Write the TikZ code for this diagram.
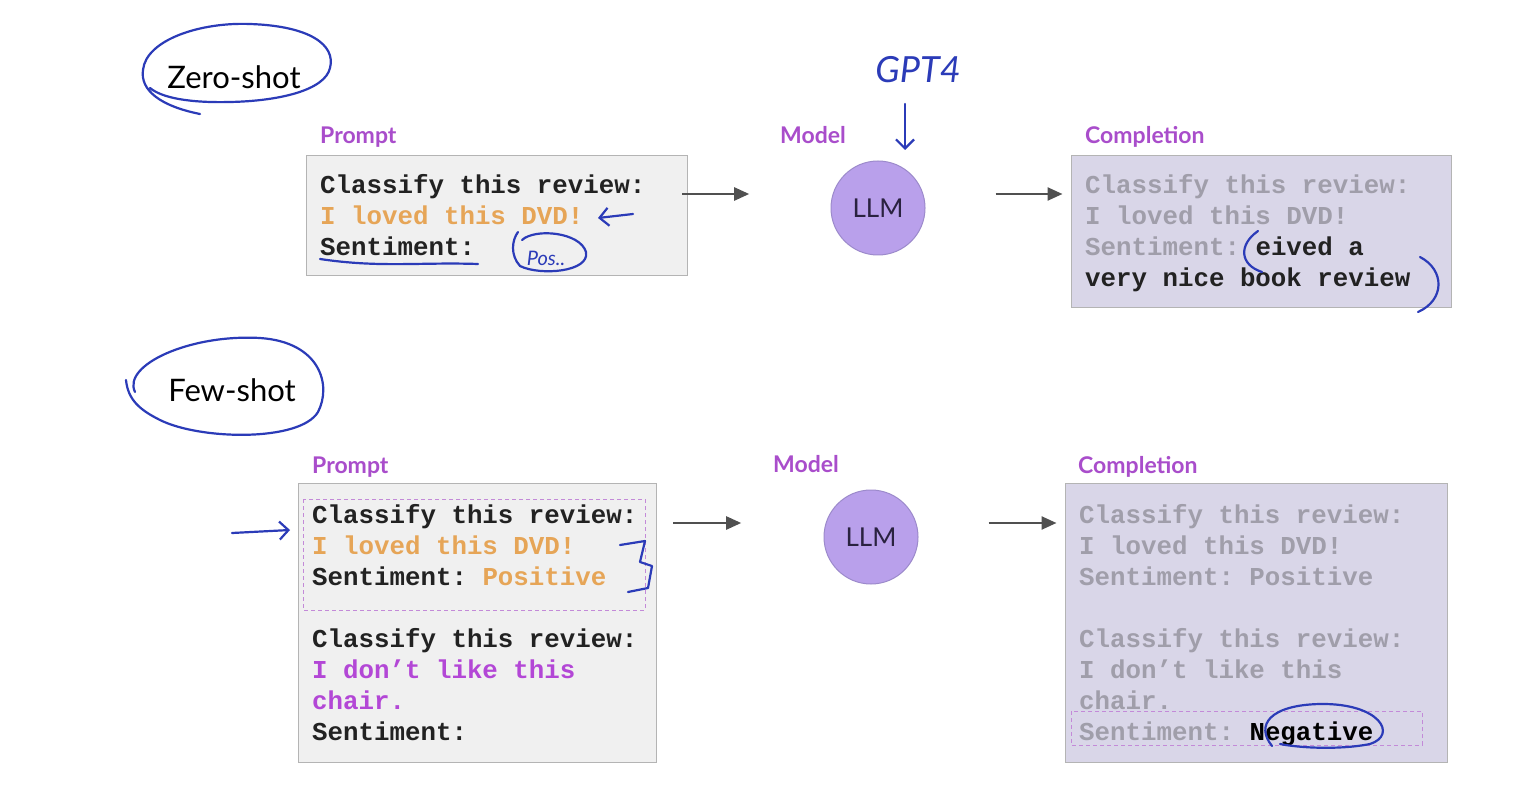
\documentclass[tikz,border=0pt]{standalone}
\usepackage{fontspec}
\setmainfont{Lato}
\setmonofont{Liberation Mono}
\usetikzlibrary{positioning,arrows.meta}
\definecolor{labelpurple}{HTML}{A94DCB}
\definecolor{boxgray}{HTML}{F0F0F0}
\definecolor{boxline}{HTML}{B4B4B4}
\definecolor{compfill}{HTML}{D9D6E8}
\definecolor{llmfill}{HTML}{B9A0EB}
\definecolor{llmline}{HTML}{9C8ACB}
\definecolor{llmtext}{HTML}{2A2240}
\definecolor{arrowgray}{HTML}{505050}
\definecolor{loved}{HTML}{E6A557}
\definecolor{chair}{HTML}{B347D6}
\definecolor{faded}{HTML}{A09EAA}
\definecolor{ink}{HTML}{222222}
\definecolor{dashpurple}{HTML}{C38AD8}
\definecolor{pen}{HTML}{2B3BB8}
\tikzset{pbox/.style={draw=boxline, fill=boxgray, line width=1.2pt, anchor=north west, inner sep=0pt},
  cbox/.style={pbox, fill=compfill},
  lbl/.style={text=labelpurple, font=\fontsize{23}{28}\selectfont\bfseries, anchor=base west, inner sep=0pt},
  mono/.style={text=ink, font=\fontsize{25.8}{31}\selectfont\ttfamily\bfseries, align=left, anchor=north west, inner sep=0pt},
  llm/.style={circle, draw=llmline, fill=llmfill, line width=1pt, minimum size=94pt, inner sep=0pt, text=llmtext, font=\fontsize{26}{30}\selectfont},
  flow/.style={draw=arrowgray, line width=2.4pt, -{Triangle[length=15pt,width=13pt]}},
  dashbox/.style={draw=dashpurple, line width=1pt, dash pattern=on 4pt off 3pt},
  hand/.style={draw=pen, line width=2.2pt, line cap=round, line join=round},
  barb/.style={hand, -{Straight Barb[length=9pt,width=18pt]}},
  shot/.style={text=black, font=\fontsize{31}{36}\selectfont, inner sep=0pt}}

\begin{document}
\begin{tikzpicture}[x=1pt,y=-1pt]
  \fill[white] (0,0) rectangle (1538,791);
  \useasboundingbox (0,0) rectangle (1538,791);

  % zero-shot
  \node[shot] (zs) at (234,77) {Zero-shot};
  \node[pbox, minimum width=381pt, minimum height=120pt] (pz) at (306,155) {};
  \node[lbl] (lpz) at ([xshift=14pt,yshift=11pt]pz.north west) {Prompt};
  \node[mono] (tpz) at ([xshift=14pt,yshift=-19pt]pz.north west)
    {Classify this review:\\ \textcolor{loved}{I loved this DVD!}\\ Sentiment:};
  \node[llm] (mz) at (878,208) {LLM};
  \node[lbl] (lmz) at ([xshift=-98pt,yshift=17pt]mz.north) {Model};
  \node[cbox, minimum width=380pt, minimum height=152pt] (cz) at (1071,155) {};
  \node[lbl] (lcz) at ([xshift=14pt,yshift=11pt]cz.north west) {Completion};
  \node[mono, text=faded] (tcz) at ([xshift=14pt,yshift=-19pt]cz.north west)
    {Classify this review:\\ I loved this DVD!\\ Sentiment: \textcolor{ink}{eived a}\\ \textcolor{ink}{very nice book review}};
  \draw[flow] ([xshift=-6pt,yshift=-39pt]pz.north east) -- ++(67,0);
  \draw[flow] ([xshift=70pt,yshift=14pt]mz.east) -- ++(67,0);

  % few-shot
  \node[shot] (fs) at (232,390) {Few-shot};
  \node[pbox, minimum width=358pt, minimum height=279pt] (pf) at (298,483) {};
  \node[lbl] (lpf) at ([xshift=14pt,yshift=10pt]pf.north west) {Prompt};
  \draw[dashbox] (303,499) rectangle (645,610);
  \node[mono] (tpf) at ([xshift=14pt,yshift=-21pt]pf.north west)
    {Classify this review:\\ \textcolor{loved}{I loved this DVD!}\\ Sentiment: \textcolor{loved}{Positive}\\[31pt]
     Classify this review:\\ \textcolor{chair}{I don’t like this}\\ \textcolor{chair}{chair.}\\ Sentiment:};
  \node[llm] (mf) at (871,537) {LLM};
  \node[lbl] (lmf) at ([xshift=-98pt,yshift=17pt]mf.north) {Model};
  \node[cbox, minimum width=382pt, minimum height=279pt] (cf) at (1065,483) {};
  \node[lbl] (lcf) at ([xshift=13pt,yshift=10pt]cf.north west) {Completion};
  \draw[dashbox] (1071,711) rectangle (1422,745);
  \node[mono, text=faded] (tcf) at ([xshift=14pt,yshift=-21pt]cf.north west)
    {Classify this review:\\ I loved this DVD!\\ Sentiment: Positive\\[31pt]
     Classify this review:\\ I don’t like this\\ chair.\\ Sentiment: \textcolor{black}{Negative}};
  \draw[flow] ([xshift=16pt,yshift=-40pt]pf.north east) -- ++(68,0);
  \draw[flow] ([xshift=70pt,yshift=14pt]mf.east) -- ++(68,0);

  % pen notes
  \draw[hand] (200,114) .. controls (160,106) and (140,90) .. (143,70) .. controls (146,40) and (200,22) .. (250,24)
    .. controls (310,26) and (336,45) .. (330,68) .. controls (325,90) and (280,101) .. (230,102)
    .. controls (190,103) and (162,98) .. (150,88);
  \draw[hand] (135,392) .. controls (122,365) and (190,334) .. (260,338) .. controls (320,342) and (332,385) .. (318,412)
    .. controls (300,442) and (200,440) .. (160,420) .. controls (140,410) and (128,400) .. (126,380);
  \node[text=pen, font=\fontsize{36}{40}\selectfont\itshape, inner sep=0pt] (gpt) at (918,70) {GPT4};
  \draw[barb] (905,104) -- (905,150);
  \draw[barb] (633,214) -- (598,218);
  \draw[hand] (320,259) .. controls (380,268) and (420,262) .. (478,264);
  \draw[hand] (522,240) .. controls (535,228) and (580,232) .. (586,252) .. controls (590,272) and (540,276) .. (520,266)
    .. controls (510,255) and (512,240) .. (518,232);
  \node[text=pen, font=\fontsize{20}{24}\selectfont\itshape, inner sep=0pt] (pos) at (546,258) {Pos..};
  \draw[hand] (1258,231) .. controls (1238,245) and (1240,265) .. (1262,272);
  \draw[hand] (1420,257) .. controls (1445,270) and (1445,300) .. (1418,312);
  \draw[barb] (232,533) -- (290,530);
  \draw[hand] (620,545) -- (645,541) -- (640,562) -- (652,566) -- (648,588) -- (628,592);
  \draw[hand] (1272,746) .. controls (1255,725) and (1270,705) .. (1320,704) .. controls (1380,703) and (1398,735) .. (1370,744)
    .. controls (1340,750) and (1300,748) .. (1280,744);
\end{tikzpicture}
\end{document}
